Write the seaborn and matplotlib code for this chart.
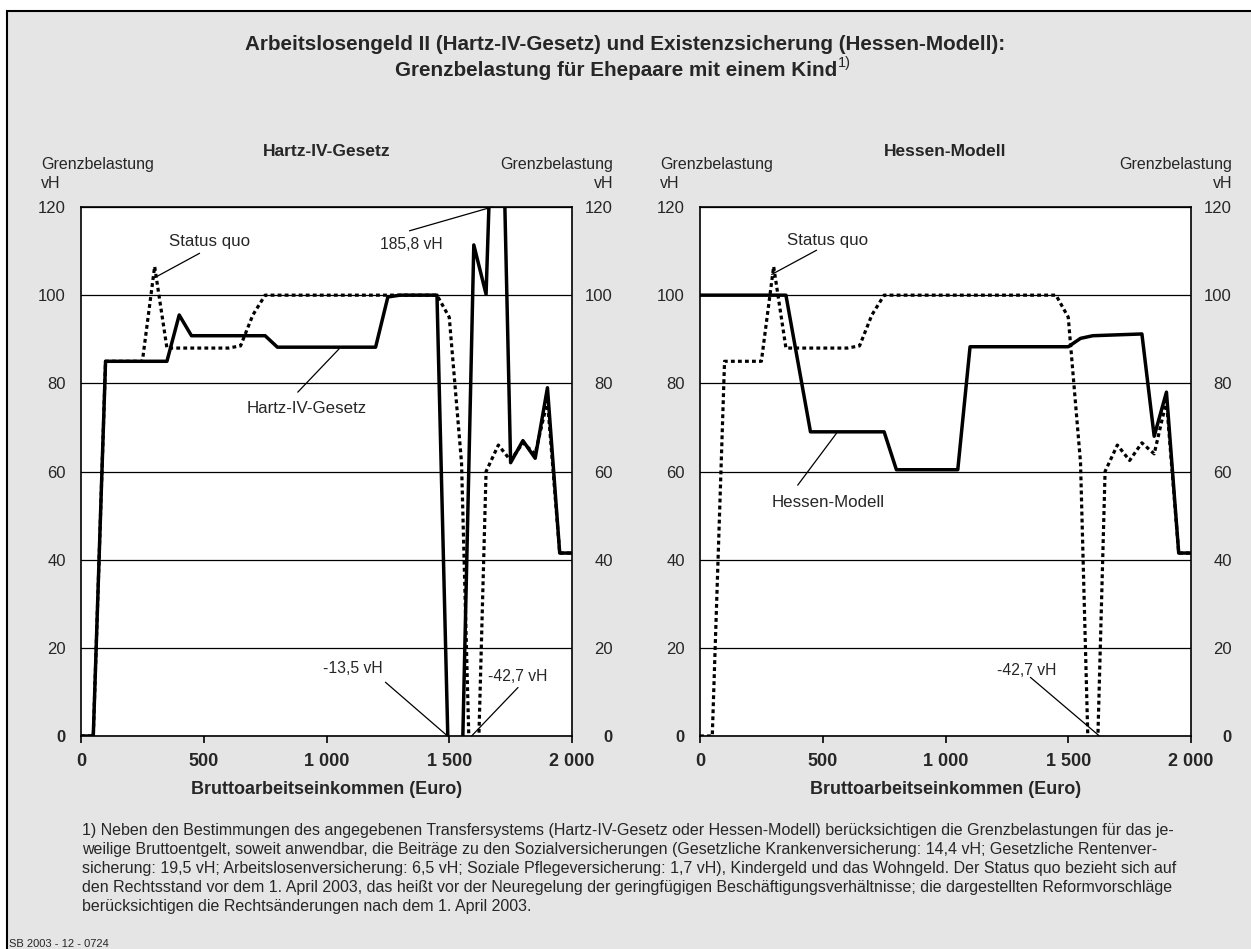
import matplotlib
matplotlib.use("Agg")
import matplotlib.pyplot as plt
from matplotlib.patches import Rectangle
import pandas as pd
import seaborn as sns

W, H = 1251, 949

# Bruttoarbeitseinkommen in Euro (50-Euro-Schritte)
INCOME = [0, 50, 100, 150, 200, 250, 300, 350, 400, 450, 500, 550, 600, 650,
          700, 750, 800, 850, 900, 950, 1000, 1050, 1100, 1150, 1200, 1250,
          1300, 1350, 1400, 1450, 1500, 1550, 1600, 1650, 1700, 1750, 1800,
          1850, 1900, 1950, 2000]

# Grenzbelastung in vH
STATUS_QUO = [0, 0, 85, 85, 85, 85, 106.5, 88, 88, 88, 88, 88, 88, 88.5,
              95.5, 100, 100, 100, 100, 100, 100, 100, 100, 100, 100, 100,
              100, 100, 100, 100, 95, 62, -42.7, 60, 66, 62.5, 66.5,
              64, 76, 41.5, 41.5]
HARTZ_IV = [0, 0, 85, 85, 85, 85, 85, 85, 95.5, 90.8, 90.8, 90.8, 90.8, 90.8,
            90.8, 90.8, 88.2, 88.2, 88.2, 88.2, 88.2, 88.2, 88.2, 88.2, 88.2, 99.6,
            100, 100, 100, 100, -13.5, -13.5, 111.4, 100.2, 185.8, 62, 67,
            63, 79, 41.5, 41.5]
HESSEN = [100, 100, 100, 100, 100, 100, 100, 100, 84.5, 69, 69, 69, 69, 69,
          69, 69, 60.4, 60.4, 60.4, 60.4, 60.4, 60.4, 88.3, 88.3, 88.3, 88.3,
          88.3, 88.3, 88.3, 88.3, 88.3, 90.2, 90.8, 90.9, 91.0, 91.1, 91.2,
          68, 78, 41.5, 41.5]

Y_TICKS = [0, 20, 40, 60, 80, 100, 120]
X_TICKS = [0, 500, 1000, 1500, 2000]
X_LABELS = ["0", "500", "1 000", "1 500", "2 000"]

# (Text, Schriftgröße, Textposition, Linienanfang, Linienende) in Datenkoordinaten
NOTES_HARTZ = [
    ("Status quo", 12.2, (525, 112.2), (483, 109.5), (301, 104)),
    ("185,8 vH", 11.3, (1345, 111.4), (1338, 114.6), (1675, 120)),
    ("Hartz-IV-Gesetz", 12.2, (918, 74.4), (883, 78), (1051, 87.8)),
    ("-13,5 vH", 11.3, (1107, 15.4), (1240, 12.2), (1493, 0)),
    ("-42,7 vH", 11.3, (1780, 13.4), (1780, 11), (1591, 0)),
]
NOTES_HESSEN = [
    ("Status quo", 12.2, (520, 112.4), (475, 110.2), (292, 104.7)),
    ("Hessen-Modell", 12.2, (520, 52.9), (398, 56.9), (559, 68.9)),
    ("-42,7 vH", 11.3, (1332, 14.9), (1346, 13.3), (1627, 0)),
]

TITLE_1 = "Arbeitslosengeld II (Hartz-IV-Gesetz) und Existenzsicherung (Hessen-Modell):"
TITLE_2 = "Grenzbelastung für Ehepaare mit einem Kind"
FOOTNOTE = (
    "1) Neben den Bestimmungen des angegebenen Transfersystems (Hartz-IV-Gesetz oder Hessen-Modell) "
    "berücksichtigen die Grenzbelastungen für das je-\n"
    "weilige Bruttoentgelt, soweit anwendbar, die Beiträge zu den Sozialversicherungen "
    "(Gesetzliche Krankenversicherung: 14,4 vH; Gesetzliche Rentenver-\n"
    "sicherung: 19,5 vH; Arbeitslosenversicherung: 6,5 vH; Soziale Pflegeversicherung: 1,7 vH), "
    "Kindergeld und das Wohngeld. Der Status quo bezieht sich auf\n"
    "den Rechtsstand vor dem 1. April 2003, das heißt vor der Neuregelung der geringfügigen "
    "Beschäftigungsverhältnisse; die dargestellten Reformvorschläge\n"
    "berücksichtigen die Rechtsänderungen nach dem 1. April 2003."
)

sns.set_style("white")
plt.rcParams["font.family"] = ["Liberation Sans", "DejaVu Sans"]
plt.rcParams["font.size"] = 11

fig = plt.figure(figsize=(W / 100, H / 100), dpi=100)
fig.patch.set_facecolor("white")
fig.add_artist(Rectangle((7 / W, -0.05), 1.1, 1 - 11 / H + 0.05,
                         transform=fig.transFigure, facecolor="#e5e5e5",
                         edgecolor="black", lw=1.5, zorder=-10))

panels = [
    ("Hartz-IV-Gesetz", 81, HARTZ_IV, NOTES_HARTZ),
    ("Hessen-Modell", 700, HESSEN, NOTES_HESSEN),
]

axes = []
for title, left_px, reform, notes in panels:
    ax = fig.add_axes([left_px / W, (H - 736) / H, 491 / W, 529 / H])
    ax.set_facecolor("white")
    df = pd.DataFrame({"Einkommen": INCOME, "Status quo": STATUS_QUO, title: reform})

    sns.lineplot(data=df, x="Einkommen", y="Status quo", ax=ax, color="black",
                 lw=2.3, linestyle=(0, (1.2, 1.0)), dash_capstyle="butt", zorder=3)
    sns.lineplot(data=df, x="Einkommen", y=title, ax=ax, color="black",
                 lw=2.5, zorder=4)

    ax.set_xlim(0, 2000)
    ax.set_ylim(0, 120)
    ax.set_yticks(Y_TICKS, labels=[str(v) for v in Y_TICKS])
    ax.set_xticks(X_TICKS, labels=X_LABELS)
    ax.tick_params(axis="y", length=0, pad=11, labelsize=12)
    ax.tick_params(axis="x", direction="out", length=5, width=1.2, pad=7,
                   labelsize=13, color="black", bottom=True)
    for lbl in ax.get_xticklabels():
        lbl.set_fontweight("bold")
    ax.get_yticklabels()[0].set_fontweight("bold")
    ax.grid(axis="y", color="black", lw=0.9)
    ax.grid(axis="x", visible=False)
    ax.set_axisbelow(True)
    for sp in ax.spines.values():
        sp.set_visible(True)
        sp.set_color("black")
        sp.set_linewidth(1.2)

    ax.set_xlabel("Bruttoarbeitseinkommen (Euro)", fontsize=13,
                  fontweight="bold")
    ax.xaxis.label.set_va("center")
    ax.xaxis.set_label_coords(0.5, -(790 - 736) / 529)
    ax.set_ylabel("")

    tw = ax.twinx()
    tw.set_ylim(0, 120)
    tw.set_yticks(Y_TICKS, labels=[str(v) for v in Y_TICKS])
    tw.tick_params(axis="y", length=0, pad=29.5, labelsize=12)
    for lbl in tw.get_yticklabels():
        lbl.set_horizontalalignment("right")
    tw.get_yticklabels()[0].set_fontweight("bold")
    for sp in tw.spines.values():
        sp.set_visible(False)

    for text, size, txy, start, end in notes:
        ax.annotate("", xy=end, xytext=start,
                    arrowprops=dict(arrowstyle="-", color="black", lw=0.9,
                                    shrinkA=0, shrinkB=0),
                    annotation_clip=False, zorder=5)
        ax.text(txy[0], txy[1], text, ha="center", va="center", fontsize=size,
                zorder=6)

    cx = (left_px + 491 / 2) / W
    fig.text(cx, 1 - 152 / H, title, ha="center", va="center",
             fontsize=12.5, fontweight="bold")
    fig.text((left_px - 40) / W, 1 - 165 / H, "Grenzbelastung",
             ha="left", va="center", fontsize=11.5)
    fig.text((left_px - 40) / W, 1 - 183 / H, "vH",
             ha="left", va="center", fontsize=11.5)
    fig.text((left_px + 532) / W, 1 - 165 / H, "Grenzbelastung",
             ha="right", va="center", fontsize=11.5)
    fig.text((left_px + 532) / W, 1 - 183 / H, "vH",
             ha="right", va="center", fontsize=11.5)
    axes.append(ax)

fig.text(0.5, 1 - 44 / H, TITLE_1, ha="center", va="center",
         fontsize=14.9, fontweight="bold")
t2 = fig.text(0.5 - 9 / W, 1 - 71 / H, TITLE_2, ha="center", va="center",
              fontsize=14.9, fontweight="bold")
axes[0].annotate("1)", xy=(1.0, 0.55), xycoords=t2, ha="left", va="bottom",
                 fontsize=10.5, annotation_clip=False)

fig.text(82 / W, 1 - 823 / H, FOOTNOTE, ha="left", va="top",
         fontsize=11.5, linespacing=1.33)
fig.text(9 / W, 1 - 944 / H, "SB 2003 - 12 - 0724", ha="left", va="center",
         fontsize=8)

fig.savefig("out.png", dpi=100)
